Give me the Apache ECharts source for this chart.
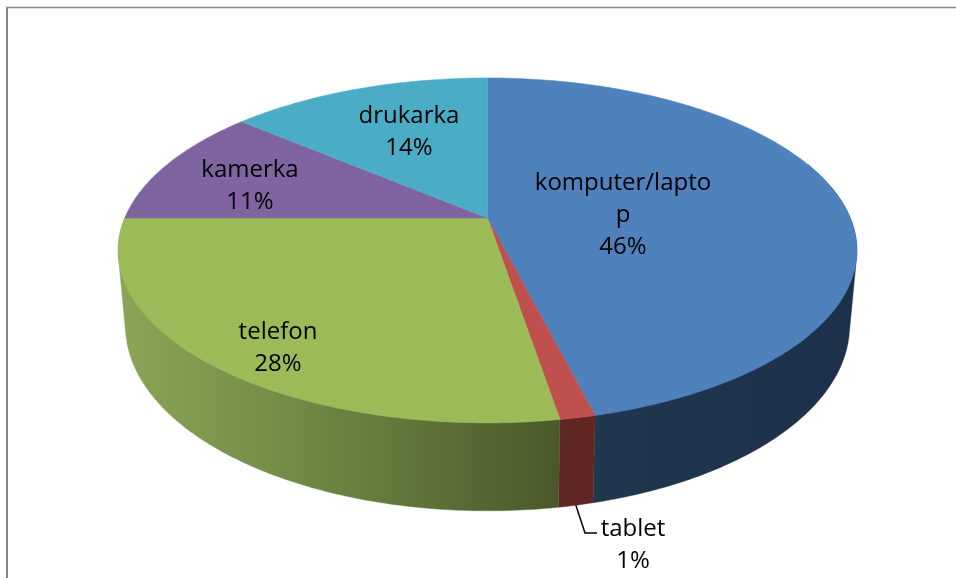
<!DOCTYPE html>
<html>
<head>
<meta charset="utf-8">
<style>html,body{margin:0;padding:0;background:#fff}#c{width:956px;height:578px}</style>
<script src="https://cdn.jsdelivr.net/npm/echarts@6/dist/echarts.min.js"></script>
</head>
<body>
<div id="c"></div>
<script>
const categories = ['komputer/laptop', 'tablet', 'telefon', 'kamerka', 'drukarka'];
const labelTexts = ['komputer/lapto\np', 'tablet', 'telefon', 'kamerka', 'drukarka'];
const values = [46.1, 1.3, 27.6, 11.25, 13.75];

const topColors = ['#4f81bd', '#c0504d', '#9bbb59', '#8064a2', '#4bacc6'];
const wallStops = [
  [[0, '#21364f'], [1, '#1c3049']],
  [[0, '#5f2624'], [1, '#5f2624']],
  [[0, '#8ca557'], [0.4, '#708b46'], [0.7, '#5e7238'], [1, '#4a5829']],
  [[0, '#4c3c61'], [1, '#4c3c61']],
  [[0, '#2d6777'], [1, '#2d6777']]
];
const labelAnchors = [[623, 215], [633, 545], [278, 348], [250, 186], [409, 132]];

// Perspective disc: top face and bottom rim
const CX = 487.5, K = 0.188;
const TOP = { y: 218, a: 362.8, b: 166.4 };
const BOT = { y: 291, a: 355.6, b: 178.5 };
const WALL_FROM = 70, WALL_TO = 270;
const FONT = '24px "Open Sans", Lato, sans-serif';

const total = values.reduce((s, v) => s + v, 0);
const cumulative = [];
values.reduce((s, v, i) => { cumulative[i] = [s / total * 360, (s + v) / total * 360]; return s + v; }, 0);

function project(disc, deg, r) {
  const t = deg * Math.PI / 180, u = r * Math.sin(t), v = -r * Math.cos(t), w = 1 / (1 - K * v);
  return [CX + disc.a * u * w, disc.y + disc.b * v * w];
}
function convexHull(points) {
  const p = points.slice().sort((a, b) => a[0] - b[0] || a[1] - b[1]);
  const cross = (o, a, b) => (a[0] - o[0]) * (b[1] - o[1]) - (a[1] - o[1]) * (b[0] - o[0]);
  const half = list => {
    const h = [];
    list.forEach(q => {
      while (h.length >= 2 && cross(h[h.length - 2], h[h.length - 1], q) <= 0) h.pop();
      h.push(q);
    });
    h.pop();
    return h;
  };
  return half(p).concat(half(p.slice().reverse()));
}

function renderWall(params) {
  const i = params.dataIndex;
  const from = Math.max(cumulative[i][0], WALL_FROM), to = Math.min(cumulative[i][1], WALL_TO);
  if (to <= from) return null;
  const n = Math.max(2, Math.ceil((to - from) / 0.75));
  const rim = [];
  for (let j = 0; j <= n; j++) {
    const d = from + (to - from) * j / n;
    rim.push(project(TOP, d, 1), project(BOT, d, 1));
  }
  const hull = convexHull(rim);
  const xs = hull.map(q => q[0]);
  const fill = { type: 'linear', x: Math.min.apply(null, xs), y: 0, x2: Math.max.apply(null, xs), y2: 0, global: true,
    colorStops: wallStops[i].map(s => ({ offset: s[0], color: s[1] })) };
  return { type: 'polygon', shape: { points: hull }, style: { fill: fill, stroke: fill, lineWidth: 0.4 } };
}

function renderTop(params) {
  const i = params.dataIndex, c = cumulative[i];
  const pts = [project(TOP, 0, 0)];
  const n = Math.max(4, Math.ceil((c[1] - c[0]) / 0.75));
  for (let j = 0; j <= n; j++) pts.push(project(TOP, c[0] + (c[1] - c[0]) * j / n, 1));
  return { type: 'polygon', shape: { points: pts }, style: { fill: topColors[i], stroke: topColors[i], lineWidth: 0.5 } };
}

function renderLabel(params, api) {
  const i = params.dataIndex, a = labelAnchors[i];
  const text = {
    type: 'text',
    style: { x: a[0], y: a[1], text: labelTexts[i] + '\n' + Math.round(api.value(0)) + '%',
      font: FONT, fill: '#000', align: 'center', verticalAlign: 'middle', lineHeight: 32 }
  };
  if (categories[i] !== 'tablet') return text;
  const start = project(BOT, (cumulative[i][0] + cumulative[i][1]) / 2, 1);
  return { type: 'group', children: [
    { type: 'polyline', shape: { points: [start, [585, 533], [597, 533]] },
      style: { fill: 'none', stroke: '#000', lineWidth: 1.5 } },
    text
  ] };
}

const data = values.map((v, i) => ({ value: v, name: categories[i] }));
const chart = echarts.init(document.getElementById('c'), null, { renderer: 'canvas' });
chart.setOption({
  animation: false,
  backgroundColor: '#fff',
  graphic: [
    { type: 'line', silent: true, shape: { x1: 7, y1: 7, x2: 7, y2: 578 }, style: { stroke: '#868686', lineWidth: 2 } },
    { type: 'line', silent: true, shape: { x1: 6, y1: 7.5, x2: 956, y2: 7.5 }, style: { stroke: '#868686', lineWidth: 1.5 } }
  ],
  series: [
    { type: 'custom', coordinateSystem: 'none', z: 2, silent: true, renderItem: renderWall, data: data },
    { type: 'custom', coordinateSystem: 'none', z: 3, silent: true, renderItem: renderTop, data: data },
    { type: 'custom', coordinateSystem: 'none', z: 4, silent: true, renderItem: renderLabel, data: data }
  ]
});
</script>
</body>
</html>
